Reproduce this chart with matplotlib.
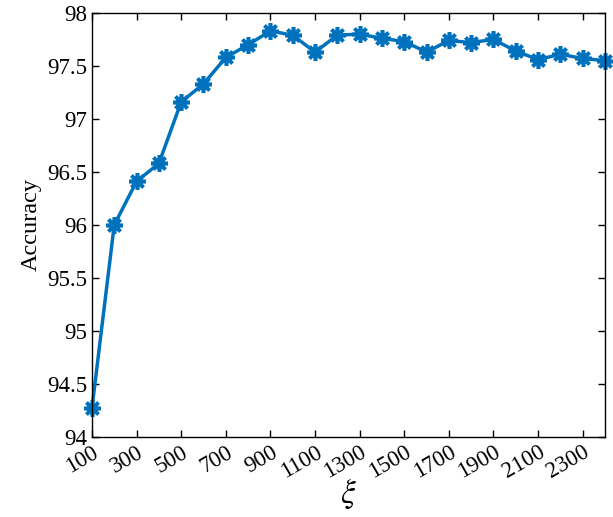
import matplotlib.pyplot as plt
import numpy as np

# ----- Data -----
xi = list(range(100, 2500, 100))
accuracy = [94.27, 96.00, 96.41, 96.58, 97.16, 97.33, 97.58, 97.70, 97.83, 97.79,
            97.63, 97.79, 97.80, 97.76, 97.73, 97.63, 97.74, 97.72, 97.75, 97.64,
            97.56, 97.61, 97.57, 97.55]
x_ticks = list(range(100, 2400, 200))

# ----- Settings -----
plt.rcParams["font.family"] = ["Liberation Serif", "DejaVu Serif"]
plt.rcParams["mathtext.fontset"] = "stix"

fig = plt.figure(figsize=(6.13, 5.17), dpi=100)
ax = fig.add_axes([0.150, 0.155, 0.837, 0.820])

ax.plot(xi, accuracy, color="#0072BD", linewidth=2.5,
        marker=(8, 2, 0), markersize=12, markeredgewidth=2.6, clip_on=False)

ax.set_xlim(100, 2400)
ax.set_ylim(94, 98)
ax.set_xticks(x_ticks)
ax.set_xticklabels([str(t) for t in x_ticks], rotation=30, ha="right",
                   rotation_mode="anchor")
ax.set_yticks(np.arange(94, 98.01, 0.5))
ax.set_yticklabels(["94", "94.5", "95", "95.5", "96", "96.5", "97", "97.5", "98"])
ax.tick_params(direction="in", length=5, width=1, labelsize=16.5,
               top=True, right=True)
for s in ax.spines.values():
    s.set_linewidth(1)

ax.set_ylabel("Accuracy", fontsize=17.5)
ax.set_xlabel(r"$\xi$", fontsize=24, labelpad=-4)

plt.savefig("out.png", dpi=100)
